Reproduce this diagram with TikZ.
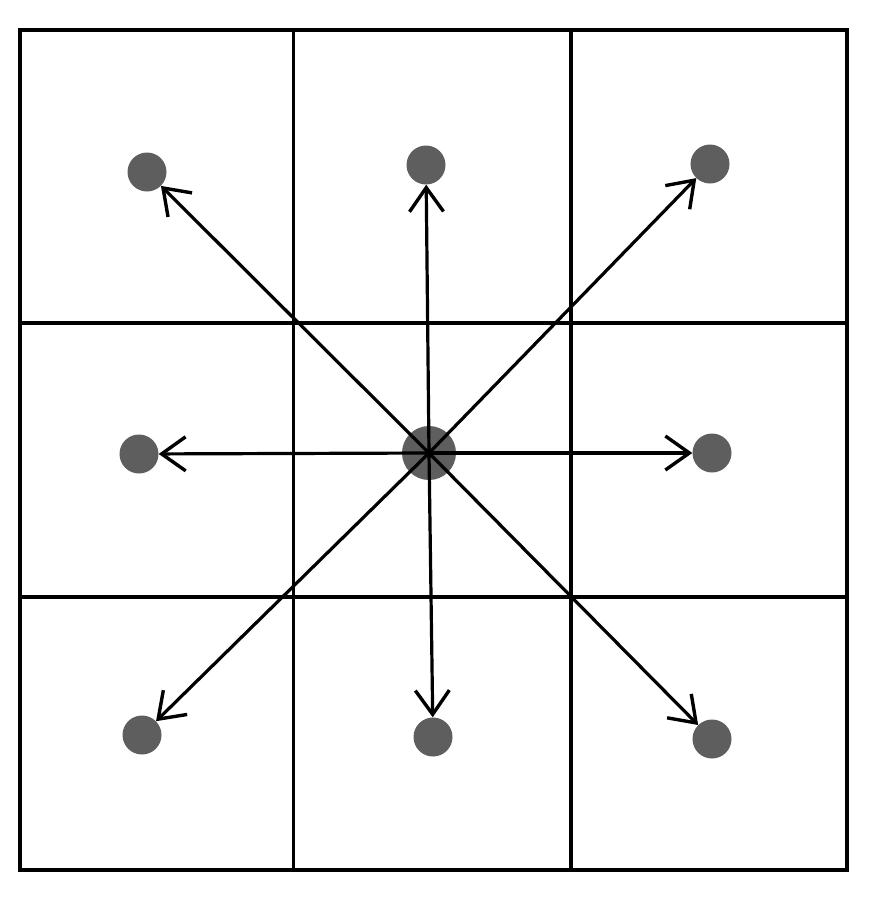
\documentclass[tikz,border=0pt]{standalone}
\usetikzlibrary{arrows.meta}
\definecolor{dotgray}{HTML}{5E5E5E}
\begin{document}
\begin{tikzpicture}[x=1pt,y=-1pt,
  gridline/.style={line width=3.4pt,black},
  outerline/.style={line width=4pt,black},
  dot/.style={circle,fill=dotgray,draw=none,minimum size=39pt,inner sep=0pt},
  bigdot/.style={circle,fill=dotgray,draw=none,minimum size=54pt,inner sep=0pt},
  arr/.style={line width=3.2pt,black,-{Straight Barb[length=24pt,width=34pt,line width=3.4pt]}}]
\useasboundingbox (0,0) rectangle (873,897);
% grid
\draw[gridline] (293.5,30) -- (293.5,870);
\draw[gridline] (571,30) -- (571,870);
\draw[gridline] (19.5,323) -- (846.5,323);
\draw[gridline] (19.5,597) -- (846.5,597);
\draw[outerline] (19.5,30) rectangle (846.5,870);
% dots
\node[bigdot] (c) at (429,453) {};
\node[dot] (tl) at (147,172) {};
\node[dot] (tm) at (426,165) {};
\node[dot] (tr) at (710,164) {};
\node[dot] (ml) at (139,454) {};
\node[dot] (mr) at (712,453) {};
\node[dot] (bl) at (142,735) {};
\node[dot] (bm) at (433,737) {};
\node[dot] (br) at (712,739) {};
% arrows
\foreach \t in {tl,tm,tr,ml,mr,bl,bm,br}
  \draw[arr] (c.center) -- (\t);
\end{tikzpicture}
\end{document}
